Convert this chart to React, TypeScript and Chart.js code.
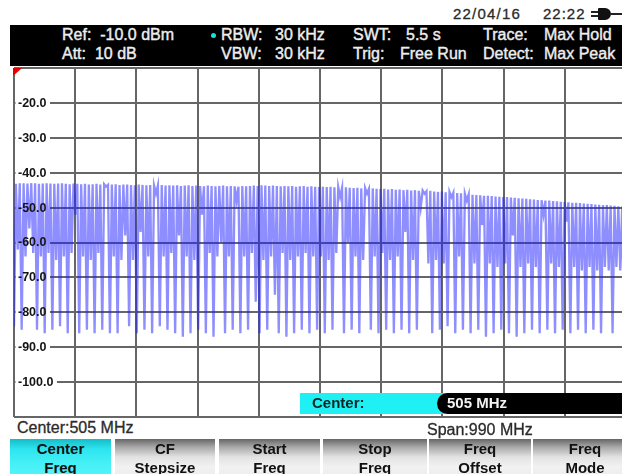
import React, { useEffect, useRef } from "react";
import { Chart, registerables } from "chart.js";

Chart.register(...registerables);

// ---- instrument settings / axes ----
const startFreqMHz = 10;
const stopFreqMHz = 1000;
const refLevelDbm = -10;
const bottomLevelDbm = -110;
const freqGridMHz = [10, 109, 208, 307, 406, 505, 604, 703, 802, 901, 1000];
const levelGridDbm = [-110, -100, -90, -80, -70, -60, -50, -40, -30, -20, -10];
const levelLabelValues = [-20, -30, -40, -50, -60, -70, -80, -90, -100];
const levelLabels = ["-20.0", "-30.0", "-40.0", "-50.0", "-60.0", "-70.0", "-80.0", "-90.0", "-100.0"];

// ---- Max Hold trace: per display column, peak level and dip level (dBm) ----
const peakTrace = [
  -43.2, -43.0, -43.0, -43.1, -43.0, -43.0, -43.2, -43.1, -43.0, -43.1,
  -43.2, -43.1, -43.0, -43.2, -43.3, -43.1, -43.2, -43.3, -43.2, -43.4,
  -43.3, -43.2, -43.4, -43.3, -43.5, -43.4, -43.3, -43.5, -43.4, -43.4,
  -43.5, -43.6, -43.4, -43.5, -43.6, -43.5, -43.7, -43.6, -43.5, -43.7,
  -43.6, -43.7, -43.6, -43.8, -43.7, -43.6, -43.8, -43.7, -43.8, -43.9,
  -43.7, -43.8, -43.9, -43.8, -43.7, -43.9, -43.8, -43.9, -44.0, -43.8,
  -43.9, -43.8, -43.7, -43.8, -43.6, -43.7, -43.8, -43.7, -43.8, -43.9,
  -43.8, -43.9, -43.8, -44.0, -43.9, -43.8, -44.0, -43.9, -44.0, -44.1,
  -44.0, -44.1, -44.0, -44.2, -44.1, -44.3, -44.2, -44.3, -44.4, -44.3,
  -44.5, -44.4, -44.6, -44.5, -44.6, -44.7, -44.6, -44.8, -44.7, -44.9,
  -44.8, -45.0, -44.9, -45.1, -45.0, -45.2, -45.1, -45.3, -45.2, -45.4,
  -45.5, -45.4, -45.6, -45.5, -45.7, -45.8, -45.9, -46.0, -46.2, -46.3,
  -46.4, -46.5, -46.6, -46.6, -46.7, -46.8, -46.9, -47.0, -47.0, -47.1,
  -47.2, -47.3, -47.4, -47.5, -47.6, -47.7, -47.8, -47.9, -48.0, -48.0,
  -48.1, -48.2, -48.3, -48.4, -48.5, -48.6, -48.6, -48.7, -48.8, -48.9,
  -49.0, -49.1, -49.2, -49.3, -49.3, -49.4, -49.5, -49.6, -49.7, -49.8,
];

const dipTrace = [
  -84, -62, -85, -64, -56, -63, -85, -64, -86, -63,
  -85, -65, -84, -64, -86, -63, -52, -86, -64, -85,
  -65, -86, -63, -85, -44, -86, -64, -86, -65, -58,
  -84, -65, -86, -57, -85, -64, -86, -46, -84, -64,
  -85, -63, -86, -58, -87, -64, -86, -65, -85, -52,
  -86, -63, -87, -64, -60, -86, -64, -85, -48, -86,
  -64, -85, -63, -77, -86, -65, -85, -64, -75, -86,
  -63, -87, -65, -86, -64, -85, -63, -86, -64, -85,
  -64, -86, -65, -85, -63, -47, -86, -60, -85, -64,
  -86, -65, -46, -85, -64, -86, -63, -85, -65, -86,
  -64, -85, -57, -86, -65, -85, -50, -46, -66, -86,
  -65, -85, -66, -84, -47, -86, -64, -85, -48, -86,
  -66, -85, -55, -87, -66, -86, -67, -85, -66, -86,
  -58, -87, -67, -86, -66, -85, -67, -86, -52, -85,
  -66, -86, -67, -85, -54, -86, -67, -85, -68, -86,
  -67, -85, -68, -86, -67, -68, -86, -67, -68, -85,
];

const traceColor = "rgba(30, 30, 255, 0.5)";
const FONT = '"Liberation Sans", Arial, Helvetica, sans-serif';

const levelLabelPlugin = {
  id: "levelLabels",
  beforeDatasetsDraw(chart: any) {
    const { ctx, chartArea, scales } = chart;
    const y = scales.y;
    ctx.save();
    ctx.font = `bold 12.5px ${FONT}`;
    levelLabelValues.forEach((v, i) => {
      const py = y.getPixelForValue(v);
      const w = ctx.measureText(levelLabels[i]).width;
      ctx.fillStyle = "#ffffff";
      ctx.fillRect(chartArea.left + 1.5, py - 2.5, w + 6, 5);
    });
    ctx.restore();
  },
  afterDatasetsDraw(chart: any) {
    const { ctx, chartArea, scales } = chart;
    const y = scales.y;
    ctx.save();
    ctx.font = `bold 12.5px ${FONT}`;
    ctx.fillStyle = "#141414";
    ctx.textBaseline = "middle";
    ctx.textAlign = "left";
    levelLabelValues.forEach((v, i) => {
      ctx.fillText(levelLabels[i], chartArea.left + 4, y.getPixelForValue(v) + 0.5);
    });
    // reference level marker
    const top = y.getPixelForValue(refLevelDbm);
    ctx.fillStyle = "#e60000";
    ctx.beginPath();
    ctx.moveTo(chartArea.left - 1, top);
    ctx.lineTo(chartArea.left + 8, top);
    ctx.lineTo(chartArea.left - 1, top + 8);
    ctx.closePath();
    ctx.fill();
    ctx.restore();
  },
};

function Txt(props: { x: number; y: number; size?: number; bold?: boolean; color?: string; ls?: number; stroke?: number; children: any }) {
  const { x, y, size = 16, bold = false, color = "#eee", ls = 0, stroke = 0.4, children } = props;
  return (
    <div
      style={{
        position: "absolute",
        left: x,
        top: y,
        fontFamily: FONT,
        fontSize: size,
        fontWeight: bold ? 700 : 400,
        color,
        lineHeight: "18px",
        whiteSpace: "pre",
        letterSpacing: ls,
        WebkitTextStroke: bold ? undefined : `${stroke}px ${color}`,
      }}
    >
      {children}
    </div>
  );
}

const softkeys = [
  { l1: "Center", l2: "Freq", x: 10, w: 101, active: true },
  { l1: "CF", l2: "Stepsize", x: 115, w: 100, active: false },
  { l1: "Start", l2: "Freq", x: 219, w: 101, active: false },
  { l1: "Stop", l2: "Freq", x: 323, w: 104, active: false },
  { l1: "Freq", l2: "Offset", x: 429, w: 102, active: false },
  { l1: "Freq", l2: "Mode", x: 533, w: 104, active: false },
];

export default function App() {
  const canvasRef = useRef<HTMLCanvasElement | null>(null);

  useEffect(() => {
    const canvas = canvasRef.current;
    if (!canvas) return;
    const nPts = peakTrace.length * 2;
    const step = (stopFreqMHz - startFreqMHz) / (nPts - 1);
    const points: { x: number; y: number }[] = [];
    for (let i = 0; i < peakTrace.length; i++) {
      points.push({ x: startFreqMHz + 2 * i * step, y: dipTrace[i] });
      points.push({ x: startFreqMHz + (2 * i + 1) * step, y: peakTrace[i] });
    }
    const gridStyle = { color: "#666666", lineWidth: 2, drawTicks: false };
    const chart = new Chart(canvas, {
      type: "line",
      data: {
        datasets: [
          {
            data: points,
            borderColor: traceColor,
            borderWidth: 2.3,
            pointRadius: 0,
            tension: 0,
            fill: false,
          },
        ],
      },
      options: {
        animation: false,
        responsive: false,
        events: [],
        layout: { padding: 2 },
        plugins: { legend: { display: false }, tooltip: { enabled: false } },
        scales: {
          x: {
            type: "linear",
            min: startFreqMHz,
            max: stopFreqMHz,
            afterBuildTicks: (axis: any) => {
              axis.ticks = freqGridMHz.map((v) => ({ value: v }));
            },
            ticks: { display: false },
            grid: gridStyle,
            border: { display: false },
          },
          y: {
            type: "linear",
            min: bottomLevelDbm,
            max: refLevelDbm,
            afterBuildTicks: (axis: any) => {
              axis.ticks = levelGridDbm.map((v) => ({ value: v }));
            },
            ticks: { display: false },
            grid: gridStyle,
            border: { display: false },
          },
        },
      },
      plugins: [levelLabelPlugin],
    } as any);
    return () => chart.destroy();
  }, []);

  return (
    <div
      style={{
        position: "fixed",
        left: 0,
        top: 0,
        width: 622,
        height: 474,
        overflow: "hidden",
        background: "#fff",
        fontFamily: FONT,
      }}
    >
      {/* date / time / battery */}
      <Txt x={453} y={5} size={15} color="#2a2a2a" ls={1.2} stroke={0.3}>22/04/16</Txt>
      <Txt x={543} y={5} size={15} color="#2a2a2a" ls={1.0} stroke={0.3}>22:22</Txt>
      <div style={{ position: "absolute", left: 591, top: 11, width: 7, height: 1.5, background: "#222" }} />
      <div style={{ position: "absolute", left: 591, top: 15, width: 7, height: 1.5, background: "#222" }} />
      <div style={{ position: "absolute", left: 598, top: 8, width: 13, height: 12, background: "#111", borderRadius: "1px 6px 6px 1px" }} />
      <div style={{ position: "absolute", left: 611, top: 13, width: 11, height: 2, background: "#222" }} />

      {/* header bar */}
      <div style={{ position: "absolute", left: 10, top: 25, width: 640, height: 41, background: "#000" }} />
      <Txt x={62} y={26}>Ref:  -10.0 dBm</Txt>
      <Txt x={62} y={45}>Att:  10 dB</Txt>
      <div style={{ position: "absolute", left: 211, top: 33, width: 5, height: 5, borderRadius: 3, background: "#19dede" }} />
      <Txt x={221} y={26}>RBW:</Txt>
      <Txt x={275} y={26}>30 kHz</Txt>
      <Txt x={221} y={45}>VBW:</Txt>
      <Txt x={275} y={45}>30 kHz</Txt>
      <Txt x={353} y={26}>SWT:</Txt>
      <Txt x={406} y={26}>5.5 s</Txt>
      <Txt x={353} y={45}>Trig:</Txt>
      <Txt x={400} y={45}>Free Run</Txt>
      <Txt x={483} y={26}>Trace:</Txt>
      <Txt x={544} y={26}>Max Hold</Txt>
      <Txt x={483} y={45}>Detect:</Txt>
      <Txt x={544} y={45}>Max Peak</Txt>

      {/* plot */}
      <canvas
        ref={canvasRef}
        width={616}
        height={353}
        style={{ position: "absolute", left: 12, top: 66, width: 616, height: 353, display: "block" }}
      />

      {/* center entry field */}
      <div style={{ position: "absolute", left: 300, top: 393, width: 150, height: 21, background: "#1ff0f4" }} />
      <Txt x={312} y={394} size={15} bold color="#0b2424">Center:</Txt>
      <div style={{ position: "absolute", left: 437, top: 393, width: 220, height: 21, background: "#000", borderRadius: "11px 0 0 11px" }} />
      <Txt x={447} y={394} size={15} bold color="#f2f2f2">505 MHz</Txt>

      {/* status line */}
      <Txt x={17} y={419} size={16} color="#2b2b2b" stroke={0.3}>Center:505 MHz</Txt>
      <Txt x={427} y={421} size={16} color="#2b2b2b" stroke={0.3}>Span:990 MHz</Txt>

      {/* softkeys */}
      {softkeys.map((k) => (
        <div
          key={k.x}
          style={{
            position: "absolute",
            left: k.x,
            top: 439,
            width: k.w,
            height: 40,
            background: k.active
              ? "linear-gradient(#14bcc8 0%, #2ee4ee 25%, #44f0f6 60%, #58f4fa 100%)"
              : "linear-gradient(#666 0%, #a8a8a8 20%, #e2e2e2 45%, #f2f2f2 70%, #ececec 100%)",
            textAlign: "center",
            fontFamily: FONT,
            fontWeight: 700,
            fontSize: 15,
            lineHeight: "19px",
            color: "#111",
          }}
        >
          <div>{k.l1}</div>
          <div>{k.l2}</div>
        </div>
      ))}
    </div>
  );
}
